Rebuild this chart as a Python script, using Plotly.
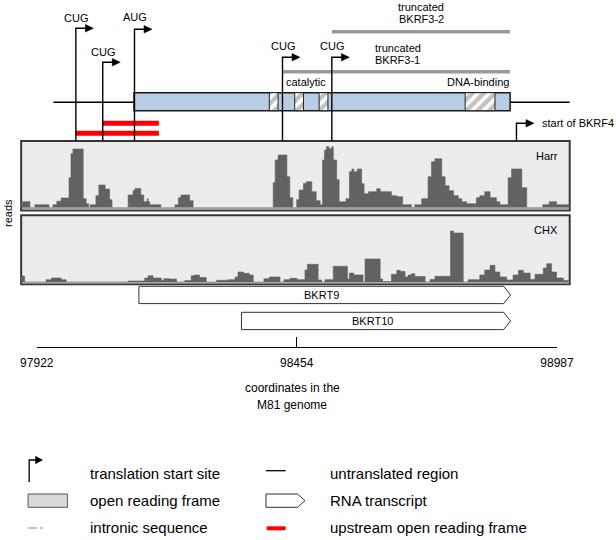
import plotly.graph_objects as go

W, H = 616, 540
FONT = "Liberation Sans, Arial, sans-serif"

# ---------------- data (M81 genome coordinates) ----------------
coord_ticks = [97922, 98454, 98987]
coord_labels = ["97922", "98454", "98987"]

site_pos = [98002, 98057, 98122, 98425, 98526]
site_codon = ["CUG", "CUG", "AUG", "CUG", "CUG"]
orf_bkrf3 = [98121, 98891]
utr_start = [97956, 98891]
utr_end = [98121, 99013]
hatch_start = [98398, 98450, 98500, 98799]
hatch_end = [98416, 98468, 98518, 98860]
uorf_start = [98057, 98002]
uorf_end = [98172, 98172]
trunc_names = ["BKRF3-2", "BKRF3-1"]
trunc_start = [98526, 98425]
trunc_end = [98891, 98891]
bkrf4_start = 98904
transcript_names = ["BKRT9", "BKRT10"]
transcript_start = [98131, 98341]
transcript_end = [98892, 98892]

track_start, track_end = 97890, 99013
harr_pos = [97890, 97908, 97918, 97947, 97955, 97963, 97972, 97988, 97992, 97996,
            98017, 98023, 98028, 98031, 98043, 98049, 98062, 98071, 98076, 98109,
            98119, 98123, 98135, 98141, 98148, 98150, 98153, 98176, 98205, 98212,
            98217, 98235, 98242, 98406, 98410, 98416, 98434, 98440, 98446, 98454,
            98459, 98468, 98474, 98485, 98494, 98502, 98507, 98511, 98515, 98520,
            98526, 98529, 98536, 98541, 98555, 98562, 98567, 98571, 98578, 98587,
            98592, 98601, 98618, 98625, 98648, 98659, 98671, 98689, 98696, 98710,
            98723, 98730, 98737, 98751, 98758, 98766, 98775, 98785, 98792, 98802,
            98822, 98829, 98839, 98850, 98863, 98870, 98887, 98894, 98915, 98925,
            98958, 98971, 98986]
harr_reads = [6, 0, 3, 0, 3, 6.5, 9.7, 30, 54, 58.7,
              9, 4, 0, 3, 12, 22.7, 18.7, 8, 0, 12.7,
              17, 19.3, 12.7, 6, 9, 6, 3, 0, 3, 10,
              12.7, 7, 0, 25, 47.7, 52.7, 31, 10, 0, 8,
              17.7, 24.3, 26, 16, 7, 3, 47.7, 57.7, 61, 59,
              61, 47.7, 28, 6, 9, 36, 38.7, 36, 38.7, 24,
              14, 16, 19, 16, 12, 11, 3, 0, 3, 9,
              31, 46, 49, 31, 22, 17, 12, 9, 6, 4,
              10, 12, 16, 10, 6, 3, 30, 38.7, 20, 0,
              3, 6, 3]
chx_pos = [97890, 97897, 97941, 97952, 97972, 97982, 98109, 98143, 98150, 98160,
           98177, 98182, 98194, 98208, 98225, 98238, 98245, 98255, 98269, 98290,
           98314, 98328, 98334, 98345, 98357, 98365, 98387, 98398, 98420, 98428,
           98440, 98455, 98471, 98476, 98498, 98505, 98512, 98529, 98558, 98562,
           98571, 98590, 98594, 98625, 98630, 98648, 98659, 98666, 98676, 98682,
           98689, 98696, 98717, 98727, 98737, 98769, 98775, 98795, 98805, 98829,
           98839, 98850, 98860, 98870, 98884, 98897, 98908, 98918, 98932, 98942,
           98959, 98966, 98976, 98986, 99000]
chx_reads = [6, 0, 2.3, 4, 2.3, 0, 1, 4, 6.3, 4,
             1.5, 3.3, 3, 0, 1.5, 6.3, 7, 4.5, 0, 1.7,
             2.3, 5, 10, 8.7, 7, 0, 3.3, 5, 0, 2.3,
             3.7, 2.3, 12, 17.7, 2, 0, 2.3, 15.7, 3, 9,
             7, 0, 23, 3, 0.5, 7.7, 11.7, 10.5, 5, 7,
             8.3, 5.5, 0, 2.5, 5.7, 51, 49, 0, 2.3, 7,
             12, 16.7, 10, 5, 2, 7, 11.7, 9, 2.5, 7.7,
             14, 18.3, 10, 4, 1.5]

legend_left = ["translation start site", "open reading frame", "intronic sequence"]
legend_right = ["untranslated region", "RNA transcript", "upstream open reading frame"]

# ---------------- geometry / style ----------------
PX0, PX1 = 36.8, 557.0                     # pixel x of the first / last coordinate tick
BPP = (coord_ticks[-1] - coord_ticks[0]) / (PX1 - PX0)
XR = [coord_ticks[0] - PX0 * BPP, coord_ticks[0] + (W - PX0) * BPP]


def gx(px):
    return coord_ticks[0] + (px - PX0) * BPP


def off(px):
    return px * BPP


def P(px):
    return px / W


def Q(py):
    return 1 - py / H


fig = go.Figure()
shapes = []
annos = []


def text(x, y, s, size=11, xanchor="center", xref="x", yref="y", angle=0):
    annos.append(dict(x=x, y=y, text=s, showarrow=False, xref=xref, yref=yref,
                      xanchor=xanchor, yanchor="middle", textangle=angle,
                      font=dict(family=FONT, size=size, color="black")))


def line_trace(xs, ys, color="black", width=1.4, dash="solid", xaxis="x", yaxis="y"):
    fig.add_trace(go.Scatter(x=xs, y=ys, mode="lines", xaxis=xaxis, yaxis=yaxis,
                             line=dict(color=color, width=width, dash=dash),
                             hoverinfo="skip"))


def arrow(g, y_top, y_bot):
    arm, tip = off(10.5), off(17.5)
    line_trace([g, g, g + arm], [y_bot, y_top, y_top])
    fig.add_trace(go.Scatter(x=[g + arm - off(1), g + tip, g + arm - off(1), g + arm - off(1)],
                             y=[y_top - 3.8, y_top, y_top + 3.8, y_top - 3.8],
                             mode="lines", fill="toself", fillcolor="black",
                             line=dict(color="black", width=0.5), hoverinfo="skip"))


# track panels (background frames)
BOX_Y0, BOX_Y1 = 92.7, 110.7
panels = [(141, 210.5, 208.4), (215.3, 284.3, 282.8)]
for y0, y1, yb in panels:
    shapes.append(dict(type="rect", xref="x", yref="y", x0=track_start, x1=track_end,
                       y0=y0, y1=y1, fillcolor="#ececec",
                       line=dict(color="#363636", width=2), layer="below"))
    shapes.append(dict(type="line", xref="x", yref="y", x0=track_start + off(1), x1=track_end - off(1),
                       y0=yb, y1=yb, line=dict(color="#a4a4a4", width=1.5), layer="below"))

# BKRF3 ORF box
shapes.append(dict(type="rect", xref="x", yref="y", x0=orf_bkrf3[0], x1=orf_bkrf3[1],
                   y0=BOX_Y0, y1=BOX_Y1, fillcolor="#b9cde5",
                   line=dict(color="#1a1a1a", width=1.5), layer="below"))

# untranslated regions
for s, e in zip(utr_start, utr_end):
    line_trace([s, e], [102.3, 102.3], width=1.4)

# hatched domains
fig.add_trace(go.Bar(orientation="h", y=[(BOX_Y0 + BOX_Y1) / 2] * len(hatch_start),
                     x=[e - s for s, e in zip(hatch_start, hatch_end)], base=hatch_start,
                     width=BOX_Y1 - BOX_Y0, xaxis="x", yaxis="y",
                     marker=dict(color="white", line=dict(color="#222222", width=1),
                                 pattern=dict(shape="/", fgcolor="#858585", bgcolor="white",
                                              size=8, solidity=0.55)),
                     hoverinfo="skip"))

# truncated products
trunc_y = [31.7, 71.7]
for s, e, yy in zip(trunc_start, trunc_end, trunc_y):
    line_trace([s, e], [yy, yy], color="#9a9a9a", width=3.5)
text(gx(421), 7, "truncated")
text(gx(421), 18.5, trunc_names[0])
text(gx(372.5), 47.5, "truncated", xanchor="left")
text(gx(372.5), 59.5, trunc_names[1], xanchor="left")
text(gx(305.5), 81.7, "catalytic")
text(gx(510.5), 81.7, "DNA-binding", xanchor="right")

# upstream ORFs
uorf_y = [123.2, 133.3]
for s, e, yy in zip(uorf_start, uorf_end, uorf_y):
    line_trace([s, e], [yy, yy], color="#ff0000", width=5)

# start sites
site_top = [28.3, 62.3, 29.3, 57.3, 57.3]
site_lab_y = [18.3, 51.7, 16.5, 45.7, 45.5]
for g, c, yt, yl in zip(site_pos, site_codon, site_top, site_lab_y):
    arrow(g, yt, 141)
    text(g + off(0.5), yl, c)

arrow(bkrf4_start, 123.3, 141)
text(bkrf4_start + off(23.5), 123.3, "start of BKRF4", xanchor="left")

# coverage tracks
fig.add_trace(go.Scatter(x=harr_pos + [track_end], y=harr_reads + [harr_reads[-1]],
                         mode="lines", line_shape="hv", fill="tozeroy",
                         fillcolor="#626262", line=dict(color="#626262", width=0.6),
                         xaxis="x", yaxis="y2", hoverinfo="skip"))
fig.add_trace(go.Scatter(x=chx_pos + [track_end], y=chx_reads + [chx_reads[-1]],
                         mode="lines", line_shape="hv", fill="tozeroy",
                         fillcolor="#626262", line=dict(color="#626262", width=0.6),
                         xaxis="x", yaxis="y3", hoverinfo="skip"))
text(gx(560), 156, "Harr", xanchor="right")
text(gx(560), 230, "CHX", xanchor="right")
text(P(8), Q(213), "reads", xref="paper", yref="paper", angle=-90)

# transcripts
tr_y = [(286.3, 303.6), (312.3, 329.6)]
for name, s, e, (y0, y1) in zip(transcript_names, transcript_start, transcript_end, tr_y):
    n = e - off(7)
    fig.add_trace(go.Scatter(x=[s, n, e, n, s, s], y=[y0, y0, (y0 + y1) / 2, y1, y1, y0],
                             mode="lines", fill="toself", fillcolor="white",
                             line=dict(color="#333333", width=1), hoverinfo="skip"))
    text((s + n) / 2, (y0 + y1) / 2 + 0.5, name)

# coordinate axis carrier trace
fig.add_trace(go.Scatter(x=coord_ticks, y=[0, 0, 0], mode="markers", marker=dict(opacity=0),
                         xaxis="x2", yaxis="y", hoverinfo="skip"))
text(gx(292), 388, "coordinates in the", size=12)
text(gx(292), 404.5, "M81 genome", size=12)

# legend
leg_rows = [473.3, 500.5, 527.3]
shapes.append(dict(type="path", xref="paper", yref="paper",
                   path=f"M {P(29.2)},{Q(482)} L {P(29.2)},{Q(460)} L {P(36)},{Q(460)}",
                   line=dict(color="black", width=1.3)))
shapes.append(dict(type="path", xref="paper", yref="paper",
                   path=f"M {P(35.5)},{Q(456.3)} L {P(42.5)},{Q(460)} L {P(35.5)},{Q(463.7)} Z",
                   fillcolor="black", line=dict(color="black", width=0.5)))
shapes.append(dict(type="rect", xref="paper", yref="paper", x0=P(28.1), x1=P(67.4),
                   y0=Q(507.3), y1=Q(494), fillcolor="#d9d9d9",
                   line=dict(color="#555555", width=1)))
shapes.append(dict(type="line", xref="paper", yref="paper", x0=P(28), x1=P(45),
                   y0=Q(528), y1=Q(528), line=dict(color="#888888", width=1, dash="dashdot")))
shapes.append(dict(type="line", xref="paper", yref="paper", x0=P(266), x1=P(285.6),
                   y0=Q(470.7), y1=Q(470.7), line=dict(color="black", width=1.3)))
shapes.append(dict(type="path", xref="paper", yref="paper",
                   path=(f"M {P(266)},{Q(494)} L {P(297.5)},{Q(494)} L {P(305)},{Q(500.7)} "
                         f"L {P(297.5)},{Q(507.3)} L {P(266)},{Q(507.3)} Z"),
                   fillcolor="white", line=dict(color="#333333", width=1)))
shapes.append(dict(type="line", xref="paper", yref="paper", x0=P(266.7), x1=P(285.6),
                   y0=Q(528.3), y1=Q(528.3), line=dict(color="#ff0000", width=4)))
for lab, yy in zip(legend_left, leg_rows):
    text(P(88.4), Q(yy), lab, size=15, xanchor="left", xref="paper", yref="paper")
for lab, yy in zip(legend_right, leg_rows):
    text(P(327.8), Q(yy), lab, size=15, xanchor="left", xref="paper", yref="paper")

fig.update_layout(
    width=W, height=H, margin=dict(l=0, r=0, t=0, b=0, pad=0, autoexpand=False),
    paper_bgcolor="white", plot_bgcolor="rgba(0,0,0,0)",
    showlegend=False, barmode="overlay", hovermode=False,
    font=dict(family=FONT, color="black"),
    xaxis=dict(range=XR, visible=False, domain=[0, 1], fixedrange=True, automargin=False),
    yaxis=dict(range=[H, 0], visible=False, domain=[0, 1], fixedrange=True, automargin=False),
    yaxis2=dict(domain=[Q(207.7), Q(141)], range=[0, 66.7], visible=False, anchor="x",
                automargin=False, fixedrange=True),
    yaxis3=dict(domain=[Q(282), Q(215)], range=[0, 67], visible=False, anchor="x",
                automargin=False, fixedrange=True),
    xaxis2=dict(domain=[P(PX0), P(PX1)], range=[coord_ticks[0], coord_ticks[-1]],
                anchor="free", position=Q(347), showline=True, linecolor="black",
                linewidth=1.2, ticks="inside", ticklen=10, tickwidth=1.2, tickcolor="black",
                tickvals=coord_ticks, ticktext=coord_labels, showgrid=False, zeroline=False,
                automargin=False, fixedrange=True,
                tickfont=dict(family=FONT, size=12, color="black"), ticklabelstandoff=4),
    shapes=shapes, annotations=annos,
)
fig.write_html("out.html", config={"displayModeBar": False, "staticPlot": True},
               post_script="document.body.style.margin='0px';document.body.style.overflow='hidden';")
